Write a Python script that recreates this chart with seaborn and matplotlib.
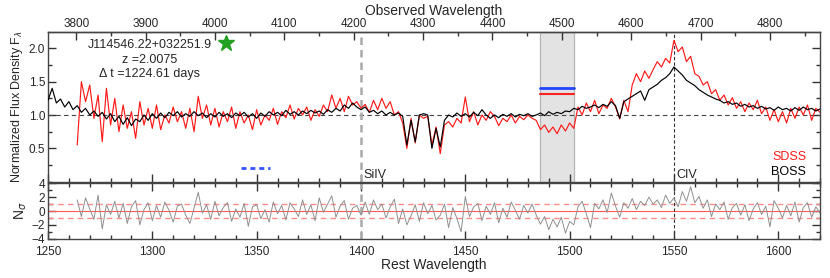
import numpy as np
import seaborn as sns
import matplotlib
matplotlib.use('Agg')
import matplotlib.pyplot as plt
from matplotlib.ticker import MultipleLocator

z = 2.0075

# rest wavelength grids (Angstrom)
wave_boss = np.arange(1250, 1621, 2)
wave_sdss = np.arange(1264, 1621, 2)

flux_boss = [
    1.22, 1.40, 1.18, 1.24, 1.12, 1.20, 1.08, 1.14, 1.04, 1.10,
    1.00, 1.06, 0.98, 1.04, 0.94, 1.02, 0.90, 0.98, 0.86, 0.96,
    0.84, 0.94, 0.90, 1.00, 0.92, 1.02, 0.95, 1.03, 0.96, 1.04,
    0.99, 1.05, 0.97, 1.02, 0.98, 1.05, 0.99, 1.03, 0.96, 1.02,
    0.97, 1.04, 0.98, 1.02, 0.96, 1.03, 0.99, 1.04, 0.97, 1.02,
    0.95, 1.03, 0.98, 1.05, 1.00, 1.04, 0.99, 1.07, 1.01, 1.05,
    1.00, 1.06, 1.02, 1.07, 1.03, 1.06, 1.01, 1.08, 1.04, 1.10,
    1.06, 1.15, 1.10, 1.18, 1.12, 1.08, 1.12, 1.04, 1.07, 1.02,
    1.06, 1.00, 1.04, 1.00, 1.03, 0.98, 0.55, 0.92, 0.60, 1.00,
    1.02, 1.00, 0.50, 0.80, 0.52, 0.92, 1.00, 0.97, 1.03, 0.98,
    1.02, 0.97, 1.04, 0.99, 1.08, 1.00, 0.95, 1.00, 0.96, 1.01,
    0.98, 1.02, 0.97, 1.01, 0.99, 1.02, 0.98, 1.00, 1.03, 0.99,
    1.05, 1.01, 1.04, 1.02, 1.06, 1.05, 1.10, 1.08, 1.13, 1.10,
    1.12, 1.15, 1.11, 1.16, 1.13, 1.20, 1.14, 0.95, 1.20, 1.24,
    1.28, 1.32, 1.36, 1.22, 1.38, 1.42, 1.46, 1.52, 1.56, 1.62,
    1.72, 1.66, 1.60, 1.52, 1.48, 1.44, 1.38, 1.34, 1.30, 1.27,
    1.24, 1.22, 1.18, 1.20, 1.16, 1.18, 1.13, 1.16, 1.12, 1.14,
    1.10, 1.13, 1.09, 1.11, 1.07, 1.12, 1.08, 1.10, 1.06, 1.11,
    1.07, 1.12, 1.08, 1.10, 1.06, 1.09,
]

flux_sdss = [
    0.55, 1.50, 1.20, 1.45, 0.95, 1.30, 0.60, 1.40, 0.85, 1.25,
    0.75, 1.15, 0.80, 1.05, 0.65, 1.20, 0.85, 1.10, 0.80, 1.15,
    0.78, 1.00, 0.88, 1.12, 0.90, 1.05, 0.80, 1.10, 0.75, 1.28,
    0.95, 1.15, 0.85, 1.10, 0.82, 1.05, 0.90, 1.12, 0.80, 1.05,
    0.88, 1.00, 0.78, 1.08, 0.85, 1.00, 0.92, 1.10, 0.86, 1.05,
    0.96, 1.15, 0.94, 1.10, 1.00, 1.12, 0.92, 1.08, 0.98, 1.15,
    1.05, 1.30, 1.10, 1.25, 1.05, 1.28, 1.15, 1.20, 1.10, 1.16,
    1.04, 1.22, 1.08, 1.25, 1.10, 1.20, 1.00, 1.05, 0.88, 0.50,
    0.95, 0.58, 1.00, 0.95, 0.98, 0.55, 0.82, 0.42, 0.85, 0.90,
    0.82, 0.95, 0.88, 1.27, 0.90, 1.05, 0.85, 1.00, 0.92, 1.05,
    0.98, 0.84, 0.95, 0.90, 1.00, 0.88, 0.98, 0.93, 1.00, 0.95,
    0.92, 0.78, 0.85, 0.74, 0.82, 0.72, 0.85, 0.76, 0.88, 0.80,
    1.12, 1.00, 1.18, 1.05, 1.22, 1.02, 1.15, 1.10, 1.25, 1.12,
    0.94, 1.22, 1.05, 1.45, 1.62, 1.50, 1.66, 1.55, 1.68, 1.80,
    1.72, 1.85, 1.78, 2.12, 1.95, 2.02, 1.80, 1.88, 1.62, 1.58,
    1.45, 1.50, 1.32, 1.38, 1.22, 1.30, 1.15, 1.26, 1.10, 1.20,
    1.05, 1.18, 1.08, 1.22, 1.02, 1.12, 0.92, 1.08, 0.90, 1.05,
    0.88, 1.10, 0.95, 1.12, 1.00, 1.15, 0.92, 1.10, 1.04,
]

nsigma = [
    1.6, -0.8, 1.9, 0.3, -1.2, 2.3, -2.6, 0.9, -0.5, 1.4,
    -1.0, 1.1, -1.8, 0.6, 1.5, -2.0, 0.2, 1.2, -1.4, 0.8,
    -0.9, 1.3, 0.1, -1.6, 0.7, 1.0, -0.6, -1.8, 0.4, 2.7,
    -0.3, 0.9, -1.2, 1.4, -0.7, 0.5, 1.2, -1.5, 0.3, -0.9,
    1.1, -2.2, 0.6, 0.9, -1.1, 0.2, -1.6, 1.3, -0.4, 0.8,
    -1.3, 1.2, 0.3, -0.8, 1.6, -0.5, 0.9, -1.4, 1.9, -0.2,
    1.0, 2.2, -0.9, 0.7, 1.5, -1.2, 0.4, 0.8, -0.6, 1.3,
    -0.5, 1.6, 0.2, 1.0, -1.0, 0.6, 1.7, -1.8, 0.3, -2.0,
    -0.7, 0.9, -1.5, 1.2, -0.4, 0.8, -1.3, -0.6, 1.0, -2.4,
    0.5, -1.1, -3.0, 2.1, -0.8, 0.6, 1.1, -1.4, 0.7, -0.5,
    1.2, -1.7, 0.4, -0.9, 1.3, 0.1, -1.2, 0.8, -0.3, 1.0,
    -0.6, -1.9, -0.8, -2.7, -1.2, -2.3, -0.9, -3.2, -1.5, -2.0,
    0.6, 1.4, -0.4, -2.4, 1.1, 0.3, 1.6, -0.2, 2.6, 0.7,
    -0.9, 1.2, 0.4, 1.8, 0.2, 1.4, 0.8, 2.0, 1.0, 1.6,
    0.5, 2.3, 1.1, 1.9, 0.6, 2.8, 1.4, 3.5, 1.2, 2.1,
    0.4, 1.6, -0.8, 1.0, 0.2, 1.3, -1.2, 0.5, 1.1, -0.6,
    0.9, -1.4, 0.3, 1.2, -0.5, 0.7, -2.3, 1.5, 0.4, -1.0,
    0.8, -0.7, 1.3, -1.6, 0.5, 1.2, -0.9, 0.6, -0.3,
]

# line positions and the variability window
line_names = ['SiIV', 'CIV']
line_waves = [1400, 1550]
band = (1486, 1502)
band_level_boss = 1.41
band_level_sdss = 1.31
star_pos = (1335.5, 2.08)
dash_seg = (1342.5, 1356.5, 0.2)
obs_ticks = list(range(3800, 4900, 100))

sns.set_theme(style='ticks')
plt.rcParams['font.family'] = ['Liberation Sans', 'DejaVu Sans']
plt.rcParams['axes.edgecolor'] = '#444444'
plt.rcParams['axes.linewidth'] = 1.0

fig = plt.figure(figsize=(8.3, 2.78), dpi=100)
ax1 = fig.add_axes([48/830, 1-181.7/278, 772/830, (181.7-32.3)/278])
ax2 = fig.add_axes([48/830, 1-238.7/278, 772/830, (238.7-183.3)/278])

tick_col = '#333333'

# top panel
ax1.axvspan(*band, color='#e3e3e3', zorder=0, lw=0)
for b in band:
    ax1.axvline(b, color='#b5b5b5', lw=0.9, zorder=0.5)
ax1.axhline(1.0, color='#444444', lw=0.8, dashes=(4, 3), zorder=1)
ax1.axvline(line_waves[0], color='#aaaaaa', lw=1.8, dashes=(3, 2), zorder=1)
ax1.axvline(line_waves[1], color='#333333', lw=0.8, dashes=(3, 2), zorder=1)

sns.lineplot(x=wave_sdss, y=flux_sdss, ax=ax1, color='#ff1a1a', lw=0.85, zorder=2)
sns.lineplot(x=wave_boss, y=flux_boss, ax=ax1, color='black', lw=0.85, zorder=3)

ax1.plot(band, [band_level_boss]*2, color='#2244ff', lw=2.0, zorder=4)
ax1.plot(band, [band_level_sdss]*2, color='#ff2222', lw=1.5, zorder=4)
ax1.plot(dash_seg[:2], [dash_seg[2]]*2, color='#3355ff', lw=2.0, dashes=(1.8, 1.4))
ax1.plot(*star_pos, marker='*', ms=12, color='#22a022', mec='#22a022')

ax1.text(0.132, 0.915, 'J114546.22+032251.9', transform=ax1.transAxes,
         ha='center', va='center', fontsize=9)
ax1.text(0.132, 0.815, 'z =2.0075', transform=ax1.transAxes,
         ha='center', va='center', fontsize=9)
ax1.text(0.132, 0.721, 'Δ t =1224.61 days', transform=ax1.transAxes,
         ha='center', va='center', fontsize=9)

for name, w in zip(line_names, line_waves):
    ax1.text(w + 1.2, 0.01, name, ha='left', va='bottom', fontsize=9)
ax1.text(0.982, 0.163, 'SDSS', color='#ff1a1a', transform=ax1.transAxes,
         ha='right', va='center', fontsize=9)
ax1.text(0.982, 0.067, 'BOSS', color='black', transform=ax1.transAxes,
         ha='right', va='center', fontsize=9)

ax1.set_xlim(1250, 1620)
ax1.set_ylim(0, 2.24)
ax1.set_yticks([0.5, 1.0, 1.5, 2.0])
ax1.yaxis.set_minor_locator(MultipleLocator(0.25))
ax1.xaxis.set_major_locator(MultipleLocator(50))
ax1.xaxis.set_minor_locator(MultipleLocator(10))
ax1.tick_params(axis='x', which='both', direction='in', bottom=True, top=False,
                labelbottom=False)
ax1.tick_params(axis='y', which='both', direction='in', left=True, right=True,
                labelsize=8.5, pad=2)
ax1.tick_params(which='major', length=6, width=1.0, color=tick_col)
ax1.tick_params(which='minor', length=3, width=1.0, color=tick_col)
ax1.set_ylabel(r'Normalized Flux Density F$_\lambda$', fontsize=9, labelpad=3)

ax_top = ax1.secondary_xaxis('top', functions=(lambda r: r*(1+z), lambda o: o/(1+z)))
ax_top.set_xticks(obs_ticks)
ax_top.xaxis.set_minor_locator(MultipleLocator(50))
ax_top.tick_params(which='both', direction='in', labelsize=8.5, pad=2, color=tick_col)
ax_top.tick_params(which='major', length=6, width=1.0)
ax_top.tick_params(which='minor', length=3, width=1.0)
ax_top.set_xlabel('Observed Wavelength', fontsize=10, labelpad=2)

# bottom panel
ax2.axhline(0, color='#ff5a5a', lw=0.8, zorder=1)
ax2.axhline(1, color='#ff8c8c', lw=1.0, dashes=(4, 3), zorder=1)
ax2.axhline(-1, color='#ff8c8c', lw=1.0, dashes=(4, 3), zorder=1)
ax2.axvline(line_waves[0], color='#aaaaaa', lw=1.8, dashes=(3, 2), zorder=1)
ax2.axvline(line_waves[1], color='#333333', lw=0.8, dashes=(3, 2), zorder=1)
sns.lineplot(x=wave_sdss, y=nsigma, ax=ax2, color='#909090', lw=0.7, zorder=2)

ax2.set_xlim(1250, 1620)
ax2.set_ylim(-4, 4)
ax2.set_yticks([-4, -2, 0, 2, 4])
ax2.yaxis.set_minor_locator(MultipleLocator(1))
ax2.xaxis.set_major_locator(MultipleLocator(50))
ax2.xaxis.set_minor_locator(MultipleLocator(10))
ax2.tick_params(which='both', direction='in', top=True, right=True,
                labelsize=8.5, color=tick_col)
ax2.tick_params(axis='y', pad=2)
ax2.tick_params(axis='x', pad=5)
ax2.tick_params(which='major', length=6, width=1.0)
ax2.tick_params(which='minor', length=3, width=1.0)
ax2.set_xlabel('Rest Wavelength', fontsize=10, labelpad=0)
ax2.set_ylabel(r'N$_\sigma$', fontsize=10, labelpad=2)

fig.savefig('out.png', dpi=100)
